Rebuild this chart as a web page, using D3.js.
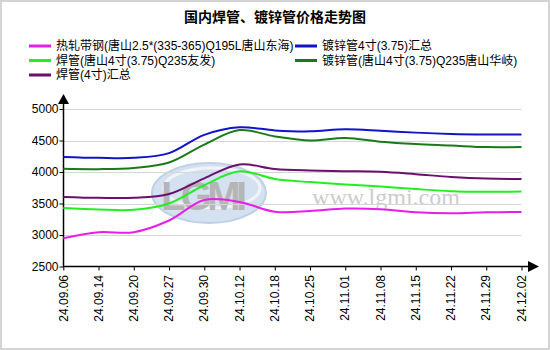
<!DOCTYPE html>
<html>
<head>
<meta charset="utf-8">
<script src="https://cdn.jsdelivr.net/npm/d3@7"></script>
<style>
  html, body { margin: 0; padding: 0; background: #fff; }
  svg { display: block; font-family: "Liberation Sans", Arial, "Noto Sans CJK SC", sans-serif; }
</style>
</head>
<body>
<svg id="chart" width="550" height="350"></svg>
<script>
// Price trend of domestic welded and galvanized pipes (yuan/ton)
const dates = ["24.09.06","24.09.14","24.09.20","24.09.27","24.09.30","24.10.12","24.10.18",
               "24.10.25","24.11.01","24.11.08","24.11.15","24.11.22","24.11.29","24.12.02"];

const hotRolledStrip = [2950, 3045, 3045, 3230, 3555, 3525, 3370, 3380, 3420, 3410, 3360, 3345, 3360, 3365];
const galvanizedAvg  = [4240, 4225, 4225, 4300, 4590, 4710, 4660, 4645, 4678, 4655, 4625, 4605, 4597, 4597];
const weldedYoufa    = [3430, 3405, 3400, 3500, 3790, 4010, 3890, 3840, 3800, 3770, 3730, 3695, 3685, 3690];
const galvanizedHuaqi= [4050, 4045, 4065, 4150, 4435, 4665, 4565, 4500, 4540, 4480, 4443, 4420, 4395, 4395];
const weldedAvg      = [3605, 3590, 3590, 3650, 3900, 4120, 4047, 4023, 4013, 4002, 3965, 3922, 3896, 3890];

const yTicks = [2500, 3000, 3500, 4000, 4500, 5000];

const seriesNames = [
  "热轧带钢(唐山2.5*(335-365)Q195L唐山东海)",
  "镀锌管4寸(3.75)汇总",
  "焊管(唐山4寸(3.75)Q235友发)",
  "镀锌管(唐山4寸(3.75)Q235唐山华岐)",
  "焊管(4寸)汇总"
];
const seriesValues = [hotRolledStrip, galvanizedAvg, weldedYoufa, galvanizedHuaqi, weldedAvg];
const seriesColors = ["#e81ee8", "#1212c8", "#22ee22", "#1a7a1a", "#6a0f6a"];

const svg = d3.select("#chart");
const W = 550, H = 350;

// frame
svg.append("rect").attr("x", 1).attr("y", 1).attr("width", W - 2).attr("height", H - 2)
  .attr("fill", "#fff").attr("stroke", "#d4d4d4").attr("stroke-width", 2);

const x = d3.scalePoint().domain(dates).range([63.3, 521.5]);
const y = d3.scaleLinear().domain([2500, 5000]).range([266.5, 109]);

// title
svg.append("text").attr("x", 275).attr("y", 22).attr("text-anchor", "middle")
  .attr("font-size", 14).attr("font-weight", "bold").attr("fill", "#000")
  .text("国内焊管、镀锌管价格走势图");

// watermark logo
const logo = svg.append("g").attr("opacity", 0.85);
logo.append("ellipse").attr("cx", 209).attr("cy", 193).attr("rx", 57).attr("ry", 30)
  .attr("fill", "#cddcee").attr("stroke", "#b5c9e2").attr("stroke-width", 2);
logo.append("ellipse").attr("cx", 212).attr("cy", 188).attr("rx", 48).attr("ry", 20)
  .attr("fill", "none").attr("stroke", "#eef3f9").attr("stroke-width", 3);
logo.append("text").attr("x", 204).attr("y", 210).attr("text-anchor", "middle")
  .attr("font-size", 40).attr("font-weight", "bold").attr("fill", "#a9a9a9")
  .attr("font-family", "'Liberation Sans', Arial, sans-serif")
  .attr("textLength", 86).text("LGMI");
logo.append("text").attr("x", 386).attr("y", 205).attr("text-anchor", "middle")
  .attr("font-size", 24).attr("fill", "#c4c4c4")
  .attr("font-family", "'Liberation Serif', 'Times New Roman', serif")
  .text("www.lgmi.com");

// grid lines
svg.append("g").selectAll("line").data(yTicks.slice(1)).join("line")
  .attr("x1", 63).attr("x2", 521.5)
  .attr("y1", d => Math.round(y(d)) + 0.5).attr("y2", d => Math.round(y(d)) + 0.5)
  .attr("stroke", "#d6d6d6").attr("stroke-width", 1);

// axes
const yAxis = d3.axisLeft(y).tickValues(yTicks).tickFormat(d3.format("d")).tickSize(4).tickPadding(1);
const gy = svg.append("g").attr("transform", "translate(63.5,0)").call(yAxis);
gy.select(".domain").remove();
gy.selectAll(".tick line").attr("stroke", "#000");
gy.selectAll(".tick text").attr("font-size", 12).attr("fill", "#000")
  .attr("font-family", "'Liberation Sans', Arial, sans-serif");

const xAxis = d3.axisBottom(x).tickSize(4).tickFormat("");
const gx = svg.append("g").attr("transform", "translate(0,266.5)").call(xAxis);
gx.select(".domain").remove();
gx.selectAll(".tick line").attr("stroke", "#000");

svg.append("g").selectAll("text").data(dates).join("text")
  .attr("transform", d => `translate(${x(d)},275) rotate(-90)`)
  .attr("text-anchor", "end").attr("dy", "0.35em")
  .attr("font-size", 12).attr("fill", "#000")
  .attr("font-family", "'Liberation Sans', Arial, sans-serif")
  .text(d => d);

// axis lines with arrows
svg.append("line").attr("x1", 63.5).attr("x2", 63.5).attr("y1", 267).attr("y2", 100)
  .attr("stroke", "#000").attr("stroke-width", 1.5);
svg.append("path").attr("d", "M63.5,94 L58,104 L69,104 Z").attr("fill", "#000");
svg.append("line").attr("x1", 63).attr("x2", 530).attr("y1", 266.5).attr("y2", 266.5)
  .attr("stroke", "#000").attr("stroke-width", 1.5);
svg.append("path").attr("d", "M539,266.5 L528,261 L528,272 Z").attr("fill", "#000");

// series lines
const line = d3.line()
  .x((d, i) => x(dates[i]))
  .y(d => y(d))
  .curve(d3.curveCatmullRom.alpha(0.5));

svg.append("g").selectAll("path").data(seriesValues).join("path")
  .attr("d", d => line(d))
  .attr("fill", "none")
  .attr("stroke", (d, i) => seriesColors[i])
  .attr("stroke-width", 2);

// legend
const legendPos = [
  {x: 29, y: 46}, {x: 295, y: 46},
  {x: 29, y: 60.5}, {x: 295, y: 60.5},
  {x: 29, y: 75}
];
const lg = svg.append("g").selectAll("g").data(seriesNames).join("g")
  .attr("transform", (d, i) => `translate(${legendPos[i].x},${legendPos[i].y})`);
lg.append("line").attr("x1", 0).attr("x2", 22).attr("y1", 0).attr("y2", 0)
  .attr("stroke", (d, i) => seriesColors[i]).attr("stroke-width", 3);
lg.append("text").attr("x", 27).attr("y", 0).attr("dy", "0.36em")
  .attr("font-size", 12).attr("fill", "#000")
  .text(d => d);
</script>
</body>
</html>
